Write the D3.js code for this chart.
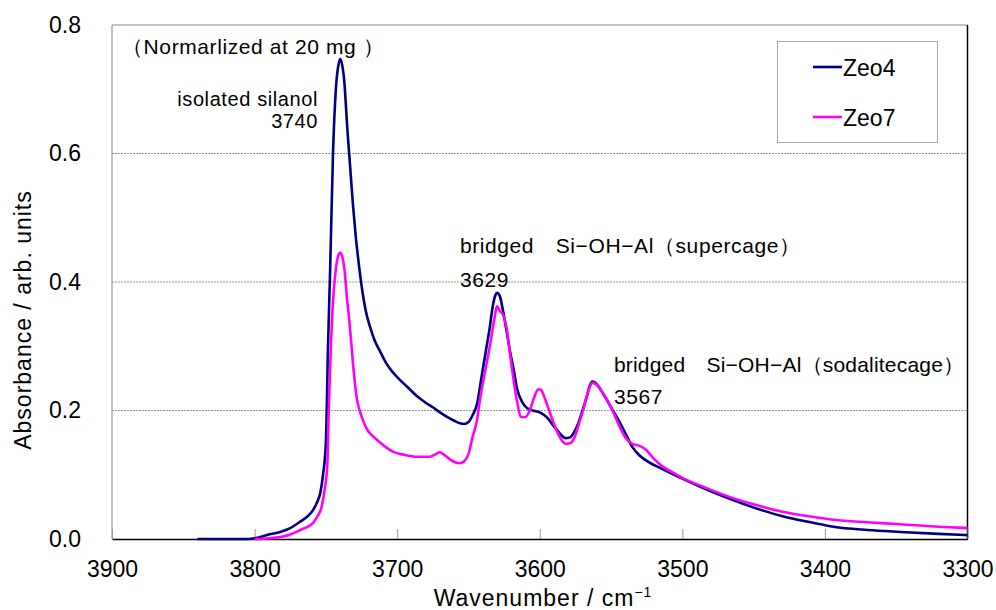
<!DOCTYPE html>
<html>
<head>
<meta charset="utf-8">
<script src="https://cdn.jsdelivr.net/npm/d3@7"></script>
<style>
  body { margin: 0; background: #fff; }
  text { font-family: "Liberation Sans", Arial, sans-serif; fill: #000; }
</style>
</head>
<body>
<script>
var outerWidth = 996, outerHeight = 610;

var margin = { top: 25, right: 28.5, bottom: 71, left: 112 };   // clockwise as in CSS

var width = outerWidth - margin.left - margin.right,
  height = outerHeight - margin.top - margin.bottom;

// wavenumber (cm-1) and absorbance
var zeo4Wn = [3840, 3820, 3805, 3798, 3790, 3782, 3775, 3768, 3763, 3759, 3756, 3754, 3752, 3750, 3748.5, 3747, 3745, 3743, 3741, 3740, 3739,
  3737, 3735, 3733, 3731, 3729, 3727, 3725, 3722, 3719, 3716, 3712, 3708, 3704, 3700, 3693, 3686, 3680, 3675, 3670, 3665, 3660, 3656, 3653,
  3650, 3647, 3644, 3641, 3638, 3635, 3633, 3631, 3630, 3628, 3626, 3623, 3621, 3618, 3616, 3612, 3609, 3605, 3600, 3597, 3594, 3591, 3588,
  3585, 3582, 3579, 3576, 3573, 3570, 3567, 3565, 3563, 3561, 3558, 3555, 3550, 3546, 3540, 3535, 3530, 3523, 3515, 3500, 3485, 3465, 3450,
  3429, 3410, 3394, 3370, 3347, 3320, 3300];
var zeo4Abs = [0.000, 0.000, 0.000, 0.002, 0.007, 0.011, 0.017, 0.027, 0.035, 0.045, 0.058, 0.071, 0.100, 0.150, 0.300, 0.420, 0.600, 0.700, 0.740, 0.747, 0.742,
  0.710, 0.640, 0.580, 0.520, 0.470, 0.430, 0.395, 0.355, 0.330, 0.310, 0.292, 0.275, 0.262, 0.252, 0.237, 0.222, 0.212, 0.205, 0.197, 0.190, 0.184, 0.180, 0.179,
  0.182, 0.193, 0.210, 0.250, 0.290, 0.330, 0.362, 0.380, 0.383, 0.378, 0.358, 0.320, 0.294, 0.260, 0.235, 0.212, 0.204, 0.200, 0.197, 0.193, 0.187, 0.178, 0.170,
  0.162, 0.157, 0.158, 0.166, 0.180, 0.200, 0.222, 0.238, 0.245, 0.243, 0.235, 0.224, 0.205, 0.190, 0.165, 0.143, 0.130, 0.119, 0.110, 0.094, 0.079, 0.061, 0.049,
  0.035, 0.026, 0.019, 0.014, 0.011, 0.008, 0.006];

var zeo7Wn = [3800, 3796, 3790, 3782, 3775, 3768, 3763, 3759, 3756, 3753, 3751, 3749, 3748, 3747, 3745, 3743, 3741, 3740, 3739,
  3737, 3735, 3734, 3732, 3730, 3728, 3726, 3724, 3721, 3718, 3714, 3708, 3703, 3695, 3686, 3677, 3673, 3670, 3667, 3663, 3659, 3656, 3653,
  3650, 3647, 3644, 3642, 3638, 3635, 3632, 3630, 3628, 3626, 3623, 3621, 3619, 3616, 3613, 3610, 3607, 3604, 3601, 3599, 3597, 3595, 3591,
  3588, 3585, 3581, 3578, 3575, 3572, 3569, 3566, 3563, 3560, 3556, 3550, 3545, 3540, 3535, 3530, 3526, 3520, 3514, 3507, 3500, 3485, 3465,
  3450, 3429, 3410, 3394, 3370, 3347, 3320, 3300];
var zeo7Abs = [0.000, 0.000, 0.001, 0.003, 0.007, 0.014, 0.019, 0.025, 0.035, 0.050, 0.075, 0.115, 0.200, 0.268, 0.370, 0.420, 0.443, 0.446, 0.443,
  0.420, 0.370, 0.350, 0.300, 0.250, 0.215, 0.198, 0.185, 0.170, 0.162, 0.154, 0.143, 0.136, 0.131, 0.128, 0.128, 0.132, 0.135, 0.131, 0.124, 0.119, 0.118, 0.121,
  0.132, 0.160, 0.185, 0.216, 0.265, 0.300, 0.340, 0.362, 0.355, 0.350, 0.325, 0.290, 0.258, 0.215, 0.190, 0.190, 0.200, 0.220, 0.233, 0.232, 0.222, 0.210, 0.185,
  0.168, 0.155, 0.148, 0.150, 0.162, 0.183, 0.205, 0.230, 0.243, 0.240, 0.228, 0.205, 0.180, 0.158, 0.148, 0.145, 0.140, 0.125, 0.113, 0.104, 0.095, 0.081, 0.064,
  0.054, 0.042, 0.035, 0.030, 0.026, 0.023, 0.019, 0.017];

var seriesNames = ["Zeo4", "Zeo7"];
var seriesColors = ["#000080", "#ff00ff"];

var xTicks = [3900, 3800, 3700, 3600, 3500, 3400, 3300];
var yTicks = [0.0, 0.2, 0.4, 0.6, 0.8];

// peak labels
var peakNames = ["isolated silanol", "bridged\u3000Si\u2212OH\u2212Al\uff08supercage\uff09", "bridged\u3000Si\u2212OH\u2212Al\uff08sodalitecage\uff09"];
var peakWn = ["3740", "3629", "3567"];

function toPoints(wn, ab) { return wn.map(function (w, i) { return { x: w, y: ab[i] }; }); }
var series = [toPoints(zeo4Wn, zeo4Abs), toPoints(zeo7Wn, zeo7Abs)];

var x = d3.scaleLinear()
  .domain([3900, 3300])          // wavenumber runs high to low
  .range([0, width]);

var y = d3.scaleLinear()
  .domain([0, 0.8])
  .range([height, 0]);

var line = d3.line()
  .x(function (d) { return x(d.x); })
  .y(function (d) { return y(d.y); })
  .curve(d3.curveMonotoneX);

var svg = d3.select("body").append("svg")
  .attr("width", outerWidth)
  .attr("height", outerHeight);

var g = svg.append("g")
  .attr("transform", "translate(" + margin.left + "," + margin.top + ")");

// dotted grid lines
g.selectAll(".grid")
  .data(yTicks.filter(function (t) { return t > 0 && t < 0.8; }))
  .enter().append("line")
  .attr("x1", 0).attr("x2", width)
  .attr("y1", function (d) { return y(d); })
  .attr("y2", function (d) { return y(d); })
  .style("stroke", "#999")
  .style("stroke-width", 1)
  .style("stroke-dasharray", "2,1");

// plot frame: gray top/left, black right
g.append("line").attr("x1", 0).attr("x2", width).attr("y1", 0).attr("y2", 0).style("stroke", "#888");
g.append("line").attr("x1", 0).attr("x2", 0).attr("y1", 0).attr("y2", height).style("stroke", "#888");
g.append("line").attr("x1", width).attr("x2", width).attr("y1", 0).attr("y2", height).style("stroke", "#000").style("stroke-width", 1.5);

var xAxis = d3.axisBottom(x)
  .tickValues(xTicks)
  .tickSizeInner(-10)
  .tickSizeOuter(0)
  .tickPadding(22)
  .tickFormat(d3.format("d"));

var yAxis = d3.axisLeft(y)
  .tickValues(yTicks)
  .tickSize(0)
  .tickPadding(31)
  .tickFormat(d3.format(".1f"));

var gx = g.append("g")
  .attr("transform", "translate(0," + height + ")")
  .call(xAxis);
gx.select(".domain").style("stroke", "#000").style("stroke-width", 1.5);
gx.selectAll(".tick line").style("stroke", "#999");
gx.selectAll(".tick text").style("font-size", "23px");

var gy = g.append("g").call(yAxis);
gy.select(".domain").remove();
gy.selectAll(".tick text").style("font-size", "23px");

// spectra
g.selectAll(".spec")
  .data(series)
  .enter().append("path")
  .attr("class", "spec")
  .attr("d", line)
  .style("fill", "none")
  .style("stroke", function (d, i) { return seriesColors[i]; })
  .style("stroke-width", 2.6)
  .style("stroke-linejoin", "round");

// annotations
var ann = g.append("g").style("font-size", "21px").style("letter-spacing", "0.6px");
ann.append("text").attr("x", 10).attr("y", 29).text("\uff08Normarlized at 20 mg \uff09");
ann.append("text").attr("x", x(3755.5)).attr("y", 81).attr("text-anchor", "end").style("font-size", "20px").text(peakNames[0]);
ann.append("text").attr("x", x(3755.5)).attr("y", 103).attr("text-anchor", "end").style("font-size", "20px").text(peakWn[0]);
ann.append("text").attr("x", x(3656)).attr("y", 228).text(peakNames[1]);
ann.append("text").attr("x", x(3656)).attr("y", 262).text(peakWn[1]);
ann.append("text").attr("x", x(3548)).attr("y", 347).style("letter-spacing", "0.2px").text(peakNames[2]);
ann.append("text").attr("x", x(3548)).attr("y", 379).text(peakWn[2]);

// legend
var legend = svg.append("g");
legend.append("rect")
  .attr("x", 777.5).attr("y", 41.5)
  .attr("width", 160).attr("height", 101)
  .style("fill", "#fff")
  .style("stroke", "#aaa");
var li = legend.selectAll(".li")
  .data(seriesNames)
  .enter().append("g")
  .attr("transform", function (d, i) { return "translate(813," + (67 + i * 50) + ")"; });
li.append("line")
  .attr("x1", 0).attr("x2", 29)
  .style("stroke", function (d, i) { return seriesColors[i]; })
  .style("stroke-width", 2.6);
li.append("text")
  .attr("x", 30).attr("y", 8.5)
  .style("font-size", "23px")
  .text(function (d) { return d; });

// axis titles
var xt = svg.append("text")
  .attr("x", 543).attr("y", 606)
  .attr("text-anchor", "middle")
  .style("font-size", "23px")
  .style("letter-spacing", "1px")
  .text("Wavenumber / cm");
xt.append("tspan").attr("dy", -9).style("font-size", "14px").text("\u22121");

svg.append("text")
  .attr("transform", "translate(31,320) rotate(-90)")
  .attr("text-anchor", "middle")
  .style("font-size", "23px")
  .style("letter-spacing", "1px")
  .text("Absorbance / arb. units");
</script>
</body>
</html>
